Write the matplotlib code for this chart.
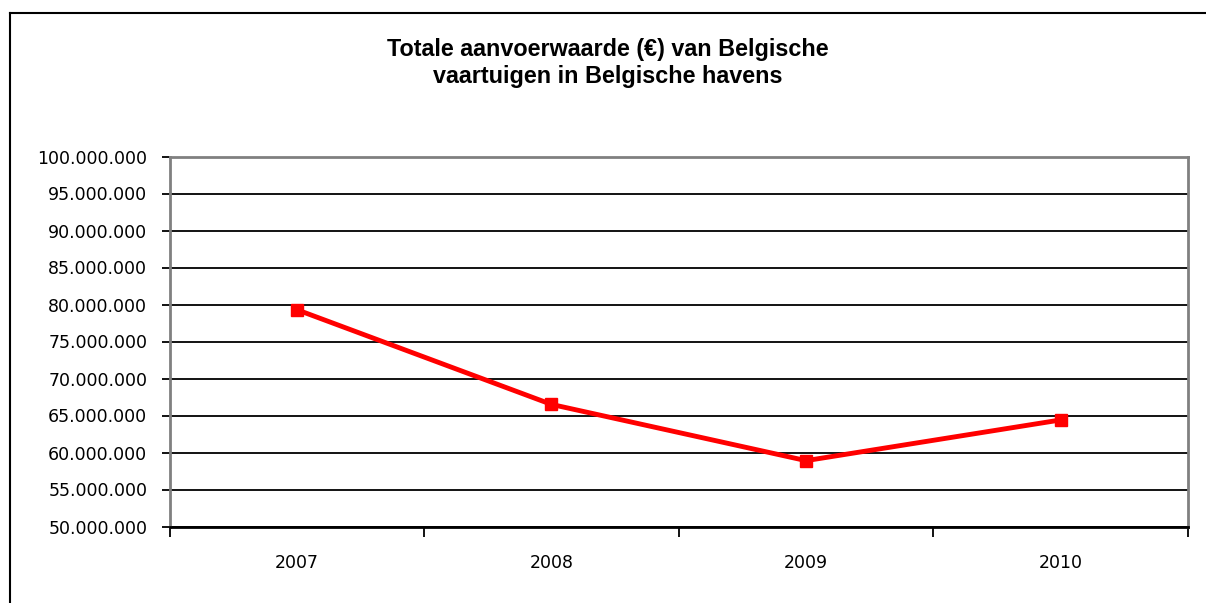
import matplotlib
matplotlib.use("Agg")
import matplotlib.pyplot as plt
from matplotlib.lines import Line2D
from matplotlib.ticker import FuncFormatter, FixedLocator

years = ["2007", "2008", "2009", "2010"]
values = [79_300_000, 66_500_000, 58_900_000, 64_400_000]
title = "Totale aanvoerwaarde (€) van Belgische\nvaartuigen in Belgische havens"

fig = plt.figure(figsize=(12.06, 6.03), dpi=100)
fig.patch.set_facecolor("white")

# figure border (top and left)
W, H = 1206, 603
fig.add_artist(Line2D([9.5 / W, 1.0], [1 - 12.5 / H, 1 - 12.5 / H], color="black", lw=1.5,
                      transform=fig.transFigure))
fig.add_artist(Line2D([9.5 / W, 9.5 / W], [0, 1 - 12.5 / H], color="black", lw=1.5,
                      transform=fig.transFigure))

ax = fig.add_axes([169.5 / W, (H - 526.5) / H, (1188 - 169.5) / W, (526.5 - 156.5) / H])

x = list(range(len(years)))
ax.plot(x, values, color="#ff0000", lw=3.5, marker="s", markersize=8.5, zorder=5,
        solid_joinstyle="miter")

ax.set_xlim(-0.5, len(years) - 0.5)
ax.set_ylim(50_000_000, 100_000_000)
ax.set_yticks(range(50_000_000, 100_000_001, 5_000_000))
ax.yaxis.set_major_formatter(FuncFormatter(lambda v, p: f"{int(v):,}".replace(",", ".")))
ax.grid(axis="y", color="black", lw=1.3)
ax.set_axisbelow(True)

ax.set_xticks(x)
ax.set_xticklabels(years)
ax.xaxis.set_minor_locator(FixedLocator([i - 0.5 for i in range(len(years) + 1)]))
ax.tick_params(axis="x", which="major", length=0, pad=20, labelsize=12.5)
ax.tick_params(axis="x", which="minor", length=7, width=1.3, direction="out", color="black")
ax.tick_params(axis="y", length=6, width=1.3, pad=10, labelsize=12.5, color="black")
for lab in ax.get_xticklabels() + ax.get_yticklabels():
    lab.set_fontfamily("DejaVu Sans")

for s in ["top", "left", "right"]:
    ax.spines[s].set_color("#808080")
    ax.spines[s].set_linewidth(2)
ax.spines["bottom"].set_color("black")
ax.spines["bottom"].set_linewidth(2)

fig.text(608 / W, 1 - 63 / H, title, ha="center", va="center", fontsize=16.8,
         fontweight="bold", family="Liberation Sans", linespacing=1.2)

fig.savefig("out.png", dpi=100)
